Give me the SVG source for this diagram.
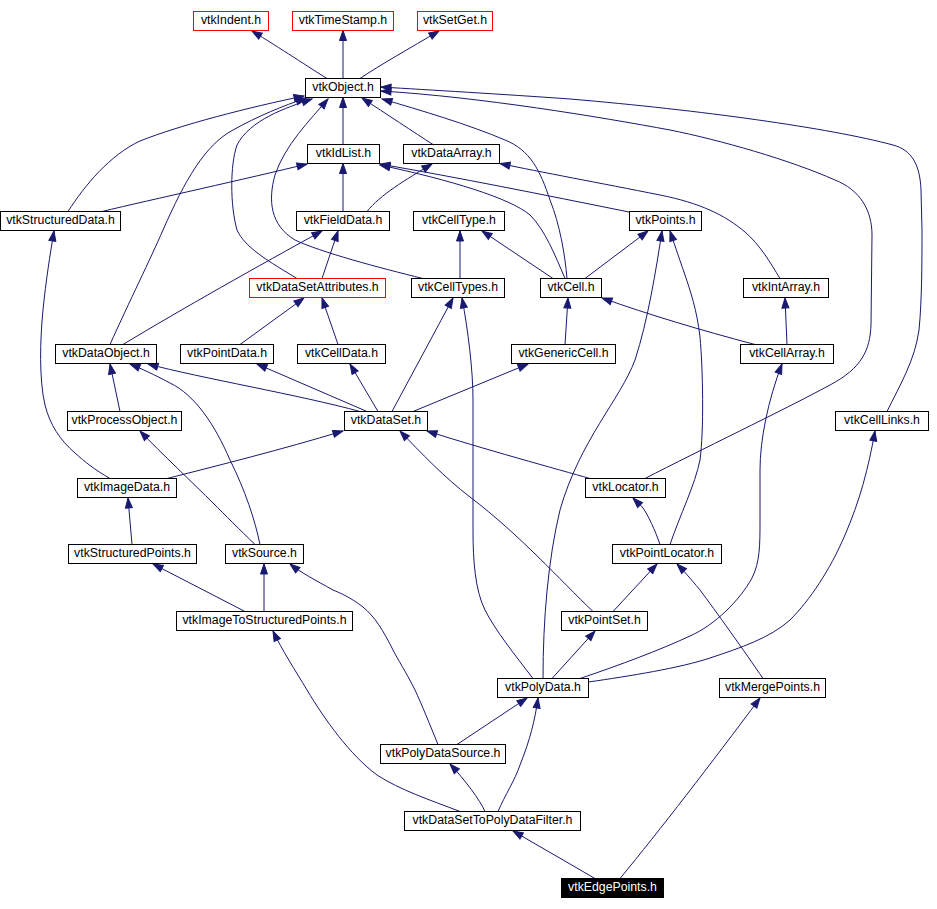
<svg xmlns="http://www.w3.org/2000/svg" width="937" height="909" viewBox="0 0 937 909">
<style>
rect{fill:#fff;stroke:#000;stroke-width:1}
rect.r{stroke:#f00}
rect.k{fill:#000}
text{font-family:"Liberation Sans",Arial,Helvetica,sans-serif;font-size:12.3px;text-anchor:middle;fill:#000}
text.w{fill:#fff}
#edges path{fill:none;stroke:#191970;stroke-width:1;marker-end:url(#a)}
</style>
<defs>
<marker id="a" markerUnits="userSpaceOnUse" markerWidth="12" markerHeight="9" viewBox="0 0 12 9" refX="11" refY="4.5" orient="auto" overflow="visible"><path d="M1,1 L11,4.5 L1,8 z" fill="#191970" stroke="#191970" stroke-width="1"/></marker>
</defs>
<rect x="0" y="0" width="937" height="909" style="fill:#fff;stroke:none"/>
<g id="edges">
<path d="M327,78.5 C310,68 280,48 252,31"/>
<path d="M343,78.5 L343,30.5"/>
<path d="M360,78.5 C380,65 410,48 439,31"/>
<path d="M343,144.5 L343,97.5"/>
<path d="M433,144.5 C415,133 385,113 362,98"/>
<path d="M68,211.5 C85,185 110,155 140,141 C180,125 250,107 304,96"/>
<path d="M110,344.5 C130,300 150,260 163,230 C185,180 205,145 233,130 C258,116 283,106 306,98"/>
<path d="M297,278.5 C270,262 245,248 237,230 C230,205 230,165 237,145 C250,120 285,108 312,99"/>
<path d="M423,278.5 C380,268 320,252 295,240 C270,225 268,200 275,175 C285,145 310,120 328,99"/>
<path d="M102,211.5 C150,200 250,178 307,164"/>
<path d="M343,211.5 L343,163.5"/>
<path d="M367,211.5 C380,195 405,180 432,164"/>
<path d="M629,212 C540,194 460,178 380,164"/>
<path d="M565,278.5 C555,255 545,230 530,215 C510,198 450,180 380,165"/>
<path d="M567,278.5 C565,255 560,225 550,200 C540,170 530,150 505,140 C470,125 420,110 382,99"/>
<path d="M645,478.5 C700,450 780,412 830,385 C862,368 870,350 871,325 L872,235 C872,210 860,190 835,180 C790,160 720,140 670,130 C600,117 480,97 381,91"/>
<path d="M887,411.5 C900,385 915,360 919,330 C922,300 922,260 922,230 L921,190 C920,165 912,150 893,145 C830,128 700,110 570,99 C500,94 430,90 381,87"/>
<path d="M553,278.5 L482,231"/>
<path d="M585,278.5 L648,231"/>
<path d="M780,278.5 C770,262 760,245 745,232 C725,215 700,203 660,195 C600,183 540,172 500,163.5"/>
<path d="M110,478.5 C95,470 85,462 75,453 C60,440 50,425 45,405 C39,380 40,340 43,310 C46,280 50,255 54,231"/>
<path d="M123,344.5 C180,310 260,265 322,231"/>
<path d="M322,278.5 L338,231"/>
<path d="M240,344.5 L304,298"/>
<path d="M338,344.5 L322,298"/>
<path d="M460,278.5 L460,231"/>
<path d="M392,411.5 L453,298"/>
<path d="M533,678.5 C515,655 495,630 485,610 C475,590 473,560 473,530 L473,400 C473,370 468,330 462,298"/>
<path d="M360,411.5 C300,395 200,378 148,364"/>
<path d="M367,411.5 L257,364"/>
<path d="M378,411.5 L350,364"/>
<path d="M413,411.5 L528,364"/>
<path d="M120,411.5 L110,364"/>
<path d="M260,544.5 C255,520 245,490 230,460 C215,425 195,395 170,383 C155,375 140,368 130,364"/>
<path d="M255,544.5 C240,530 225,515 213,503 C195,485 160,452 140,431"/>
<path d="M167,478.5 C220,465 280,450 343,431"/>
<path d="M593,611.5 C560,580 520,535 470,497 C445,478 420,452 400,431"/>
<path d="M590,478.5 C560,470 480,448 427,431"/>
<path d="M565,344.5 L568,298"/>
<path d="M755,344.5 C700,330 650,315 602,298"/>
<path d="M787,344.5 L785,298"/>
<path d="M543,678.5 C543,620 548,560 560,510 C580,440 620,400 635,360 C648,320 656,270 662,231"/>
<path d="M670,544.5 C680,515 695,485 700,460 C704,430 703,370 700,337 C697,310 690,290 685,275 C678,255 673,240 670,231"/>
<path d="M580,678.5 C620,665 660,650 690,636 C715,625 740,600 752,578 C760,562 760,545 760,520 L760,470 C760,440 768,400 782,364"/>
<path d="M588.5,682 C630,676 680,668 710,658 C740,648 770,638 790,620 C810,600 830,570 845,535 C860,500 868,470 875,431"/>
<path d="M660,544.5 C655,530 648,515 643,508 C638,502 635,500 633,498"/>
<path d="M613,611.5 L657,564"/>
<path d="M763,678.5 C745,652 715,610 700,590 C690,578 683,570 677,564"/>
<path d="M552,678.5 L595,631"/>
<path d="M132,544.5 L128,498"/>
<path d="M245,611.5 L153,564"/>
<path d="M264,611.5 L264,564"/>
<path d="M438,744.5 C430,725 422,705 415,690 C405,670 398,660 393,650 C383,630 375,617 363,607 C350,597 340,593 333,590 C315,580 300,572 290,564"/>
<path d="M460,811.5 C430,800 400,790 377,775 C350,755 325,720 307,690 C295,670 282,650 273,631"/>
<path d="M457,744.5 L527,698"/>
<path d="M498,811.5 C505,795 515,780 520,765 C530,740 535,720 538,698"/>
<path d="M485,811.5 C480,800 465,780 450,764"/>
<path d="M595,878.5 L513,831"/>
<path d="M620,878.5 C660,830 710,765 760,698"/>
</g>
<g id="vtkIndent"><rect class="r" x="193.5" y="11.5" width="75" height="19"/><text x="231" y="24">vtkIndent.h</text></g>
<g id="vtkTimeStamp"><rect class="r" x="292.5" y="11.5" width="101" height="19"/><text x="343" y="24">vtkTimeStamp.h</text></g>
<g id="vtkSetGet"><rect class="r" x="417.5" y="11.5" width="75" height="19"/><text x="455" y="24">vtkSetGet.h</text></g>
<g id="vtkObject"><rect x="305.5" y="78.5" width="75" height="19"/><text x="343" y="91">vtkObject.h</text></g>
<g id="vtkIdList"><rect x="307.5" y="144.5" width="72" height="19"/><text x="343.5" y="157">vtkIdList.h</text></g>
<g id="vtkDataArray"><rect x="403.5" y="144.5" width="96" height="19"/><text x="451.5" y="157">vtkDataArray.h</text></g>
<g id="vtkStructuredData"><rect x="0.5" y="211.5" width="120" height="19"/><text x="60.5" y="224">vtkStructuredData.h</text></g>
<g id="vtkFieldData"><rect x="296.5" y="211.5" width="93" height="19"/><text x="343" y="224">vtkFieldData.h</text></g>
<g id="vtkCellType"><rect x="413.5" y="211.5" width="91" height="19"/><text x="459" y="224">vtkCellType.h</text></g>
<g id="vtkPoints"><rect x="629.5" y="211.5" width="72" height="19"/><text x="665.5" y="224">vtkPoints.h</text></g>
<g id="vtkDataSetAttributes"><rect class="r" x="249.5" y="278.5" width="136" height="19"/><text x="317.5" y="291">vtkDataSetAttributes.h</text></g>
<g id="vtkCellTypes"><rect x="411.5" y="278.5" width="93" height="19"/><text x="458" y="291">vtkCellTypes.h</text></g>
<g id="vtkCell"><rect x="540.5" y="278.5" width="61" height="19"/><text x="571" y="291">vtkCell.h</text></g>
<g id="vtkIntArray"><rect x="743.5" y="278.5" width="85" height="19"/><text x="786" y="291">vtkIntArray.h</text></g>
<g id="vtkDataObject"><rect x="55.5" y="344.5" width="101" height="19"/><text x="106" y="357">vtkDataObject.h</text></g>
<g id="vtkPointData"><rect x="180.5" y="344.5" width="93" height="19"/><text x="227" y="357">vtkPointData.h</text></g>
<g id="vtkCellData"><rect x="297.5" y="344.5" width="88" height="19"/><text x="341.5" y="357">vtkCellData.h</text></g>
<g id="vtkGenericCell"><rect x="511.5" y="344.5" width="104" height="19"/><text x="563.5" y="357">vtkGenericCell.h</text></g>
<g id="vtkCellArray"><rect x="740.5" y="344.5" width="93" height="19"/><text x="787" y="357">vtkCellArray.h</text></g>
<g id="vtkProcessObject"><rect x="67.5" y="411.5" width="114" height="19"/><text x="124.5" y="424">vtkProcessObject.h</text></g>
<g id="vtkDataSet"><rect x="344.5" y="411.5" width="83" height="19"/><text x="386" y="424">vtkDataSet.h</text></g>
<g id="vtkCellLinks"><rect x="835.5" y="411.5" width="93" height="19"/><text x="882" y="424">vtkCellLinks.h</text></g>
<g id="vtkImageData"><rect x="77.5" y="478.5" width="99" height="19"/><text x="127" y="491">vtkImageData.h</text></g>
<g id="vtkLocator"><rect x="585.5" y="478.5" width="80" height="19"/><text x="625.5" y="491">vtkLocator.h</text></g>
<g id="vtkStructuredPoints"><rect x="68.5" y="544.5" width="128" height="19"/><text x="132.5" y="557">vtkStructuredPoints.h</text></g>
<g id="vtkSource"><rect x="225.5" y="544.5" width="78" height="19"/><text x="264.5" y="557">vtkSource.h</text></g>
<g id="vtkPointLocator"><rect x="612.5" y="544.5" width="109" height="19"/><text x="667" y="557">vtkPointLocator.h</text></g>
<g id="vtkImageToStructuredPoints"><rect x="176.5" y="611.5" width="176" height="19"/><text x="264.5" y="624">vtkImageToStructuredPoints.h</text></g>
<g id="vtkPointSet"><rect x="561.5" y="611.5" width="86" height="19"/><text x="604.5" y="624">vtkPointSet.h</text></g>
<g id="vtkPolyData"><rect x="497.5" y="678.5" width="91" height="19"/><text x="543" y="691">vtkPolyData.h</text></g>
<g id="vtkMergePoints"><rect x="719.5" y="678.5" width="106" height="19"/><text x="772.5" y="691">vtkMergePoints.h</text></g>
<g id="vtkPolyDataSource"><rect x="380.5" y="744.5" width="125" height="19"/><text x="443" y="757">vtkPolyDataSource.h</text></g>
<g id="vtkDataSetToPolyDataFilter"><rect x="404.5" y="811.5" width="176" height="19"/><text x="492.5" y="824">vtkDataSetToPolyDataFilter.h</text></g>
<g id="vtkEdgePoints"><rect class="k" x="561.5" y="878.5" width="102" height="19"/><text class="w" x="612.5" y="891">vtkEdgePoints.h</text></g>
</svg>
